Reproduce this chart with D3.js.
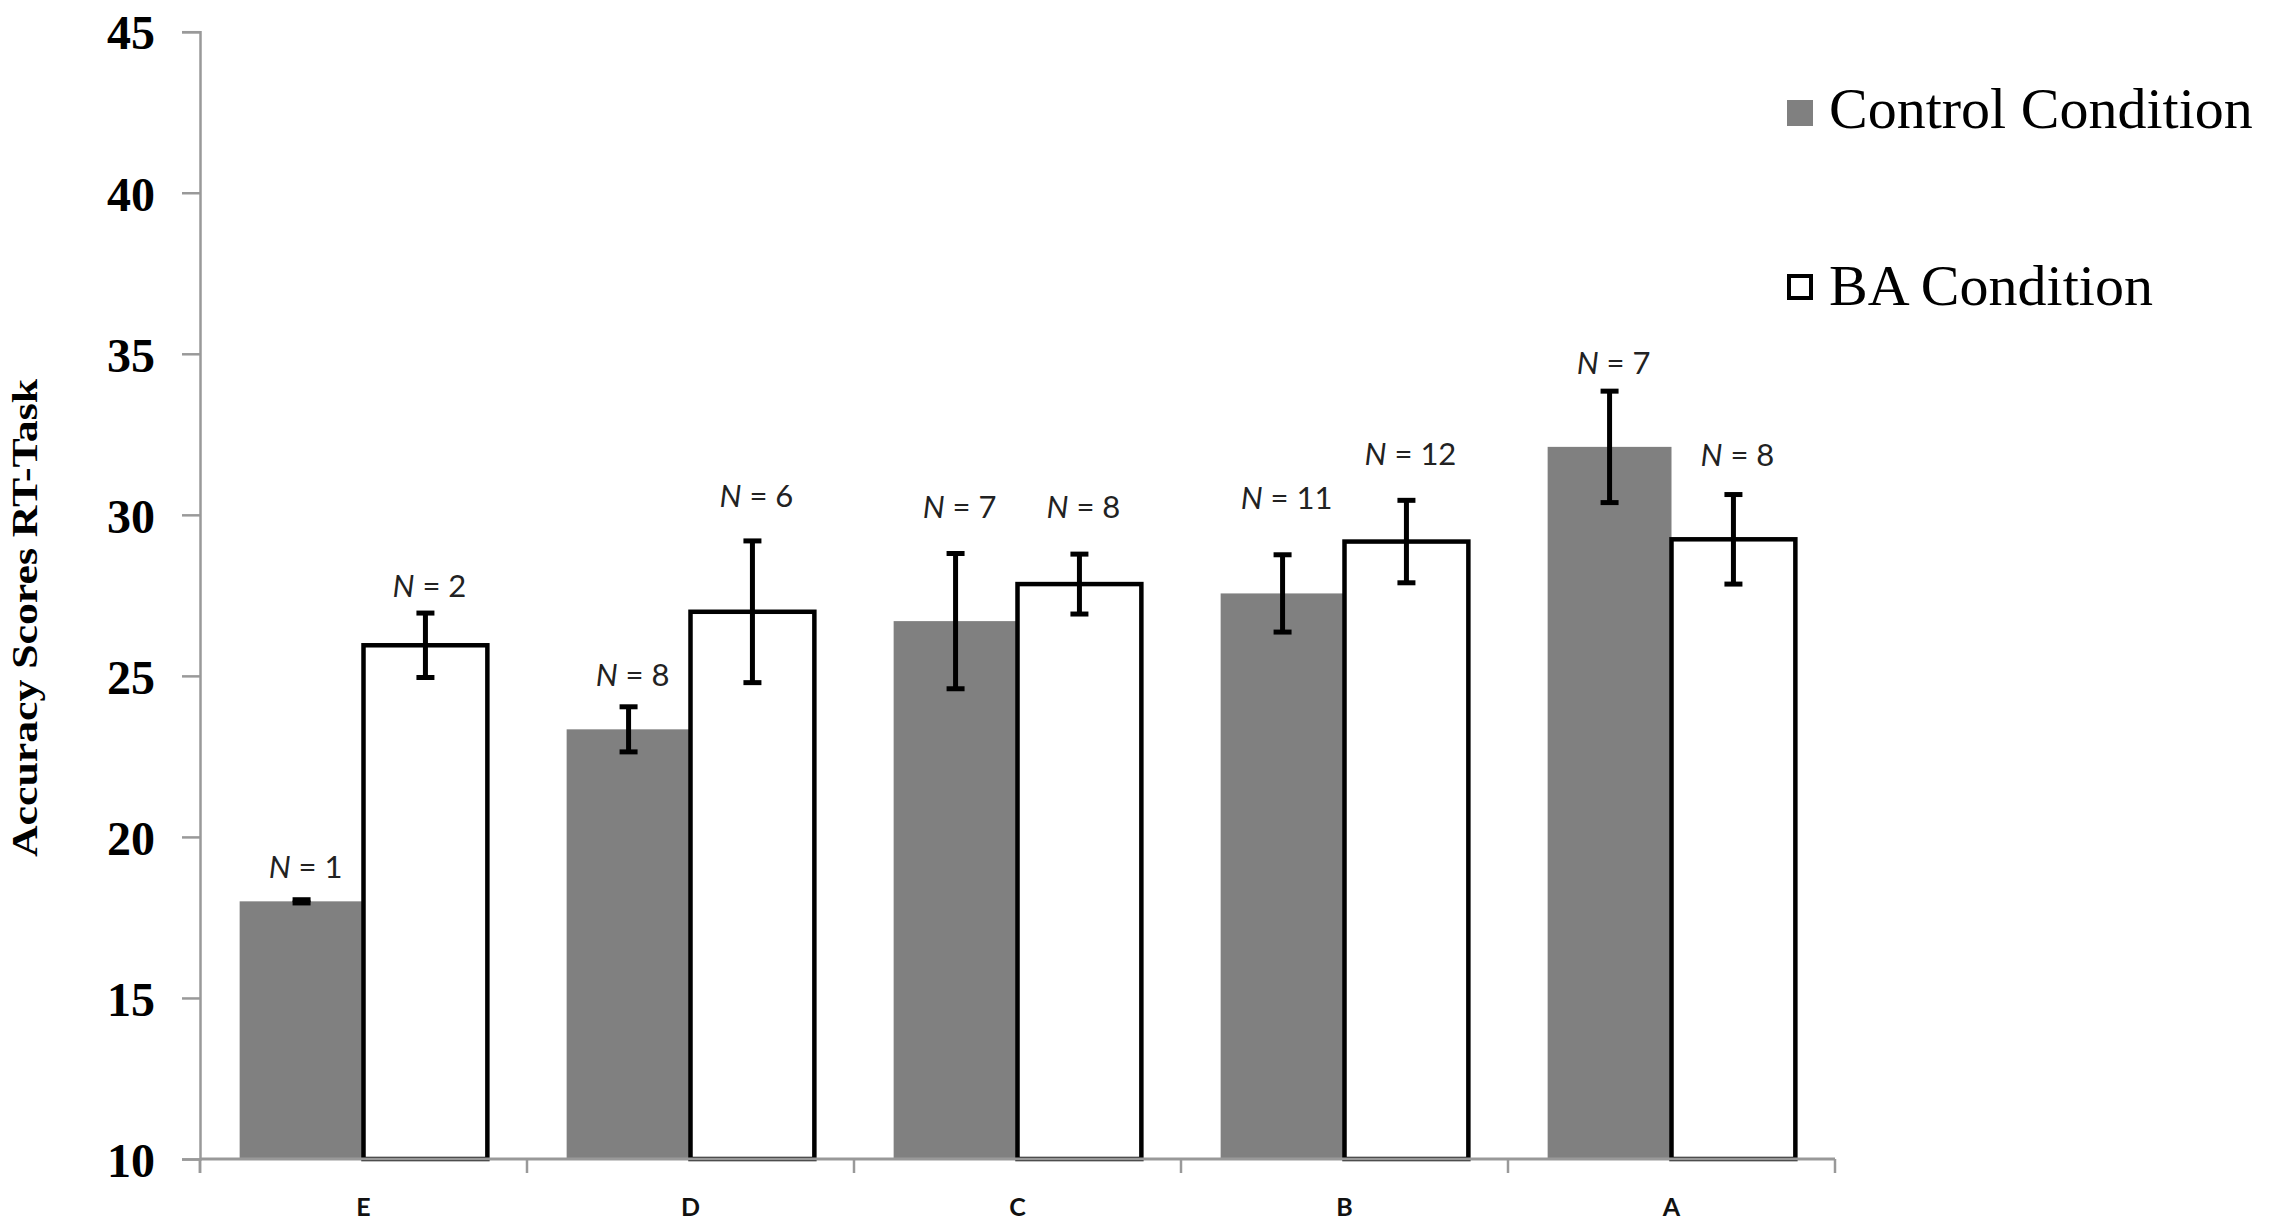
<!DOCTYPE html>
<html>
<head>
<meta charset="utf-8">
<script src="https://cdn.jsdelivr.net/npm/d3@7/dist/d3.min.js"></script>
<style>
  html, body { margin: 0; padding: 0; background: #fff; }
  svg { display: block; }
</style>
</head>
<body>
<svg id="chart" width="2290" height="1227"></svg>
<script>
// ---- data ----
const categories = ["E", "D", "C", "B", "A"];
const seriesNames = ["Control Condition", "BA Condition"];
const controlValues = [18.0, 23.34, 26.7, 27.56, 32.11];
const baValues = [25.95, 26.99, 27.85, 29.17, 29.24];
const controlErrors = [0.05, 0.7, 2.1, 1.2, 1.73];
const baErrors = [1.0, 2.2, 0.93, 1.28, 1.39];
const controlN = [1, 8, 7, 11, 7];
const baN = [2, 6, 8, 12, 8];
// value (in axis units) at which each N label is centred
const controlLabelAt = [19.07, 25.03, 30.25, 30.52, 34.71];
const baLabelAt = [27.79, 30.6, 30.25, 31.88, 31.86];
const yTicks = [10, 15, 20, 25, 30, 35, 40, 45];
const yTitle = "Accuracy  Scores RT-Task";

// ---- layout ----
const svg = d3.select("#chart");
const plot = { left: 200, right: 1835, top: 31.7, bottom: 1159 };
const CONTROL_FILL = "#808080";
const AXIS_COLOR = "#999999";

const y = d3.scaleLinear().domain([10, 45]).range([plot.bottom, plot.top]);
const x0 = d3.scaleBand().domain(categories).range([plot.left, plot.right]).padding(0);
const x1 = d3.scaleBand().domain(["control", "ba"]).range([0, x0.bandwidth()])
  .paddingInner(0).paddingOuter(0.32);

const rows = categories.map((c, i) => ({
  cat: c,
  bars: [
    { key: "control", v: controlValues[i], e: controlErrors[i], n: controlN[i], l: controlLabelAt[i] },
    { key: "ba", v: baValues[i], e: baErrors[i], n: baN[i], l: baLabelAt[i] }
  ]
}));

const groups = svg.append("g").selectAll("g.grp").data(rows).join("g")
  .attr("class", "grp")
  .attr("transform", d => `translate(${x0(d.cat)},0)`);

// bars
groups.selectAll("rect").data(d => d.bars).join("rect")
  .attr("x", d => x1(d.key))
  .attr("width", x1.bandwidth())
  .attr("y", d => y(d.v))
  .attr("height", d => y(10) - y(d.v))
  .attr("fill", d => d.key === "control" ? CONTROL_FILL : "#ffffff")
  .attr("stroke", d => d.key === "control" ? "none" : "#000")
  .attr("stroke-width", d => d.key === "control" ? 0 : 4.5)
  .attr("stroke-linejoin", "miter");

// error bars
const capHalf = 9;
const eb = groups.selectAll("g.err").data(d => d.bars).join("g").attr("class", "err");
eb.append("line")
  .attr("x1", d => x1(d.key) + x1.bandwidth() / 2)
  .attr("x2", d => x1(d.key) + x1.bandwidth() / 2)
  .attr("y1", d => y(d.v + d.e))
  .attr("y2", d => y(d.v - d.e))
  .attr("stroke", "#000").attr("stroke-width", 5);
eb.append("line")
  .attr("x1", d => x1(d.key) + x1.bandwidth() / 2 - capHalf)
  .attr("x2", d => x1(d.key) + x1.bandwidth() / 2 + capHalf)
  .attr("y1", d => y(d.v + d.e)).attr("y2", d => y(d.v + d.e))
  .attr("stroke", "#000").attr("stroke-width", 5);
eb.append("line")
  .attr("x1", d => x1(d.key) + x1.bandwidth() / 2 - capHalf)
  .attr("x2", d => x1(d.key) + x1.bandwidth() / 2 + capHalf)
  .attr("y1", d => y(d.v - d.e)).attr("y2", d => y(d.v - d.e))
  .attr("stroke", "#000").attr("stroke-width", 5);

// N labels
const nl = groups.selectAll("text.nlab").data(d => d.bars).join("text")
  .attr("class", "nlab")
  .attr("x", d => x1(d.key) + x1.bandwidth() / 2 + 4)
  .attr("y", d => y(d.l))
  .attr("dy", "0.36em")
  .attr("text-anchor", "middle")
  .attr("font-family", "Lato, 'Open Sans', sans-serif")
  .attr("font-size", 31)
  .attr("fill", "#222");
nl.append("tspan").attr("font-style", "italic").text("N");
nl.append("tspan").text(d => " = " + d.n);

// y axis
const yAxis = d3.axisLeft(y).tickValues(yTicks).tickSize(18).tickPadding(27).tickSizeOuter(18);
const yg = svg.append("g").attr("transform", `translate(${plot.left},0)`).call(yAxis);
yg.select(".domain").attr("stroke", AXIS_COLOR).attr("stroke-width", 2.5);
yg.selectAll(".tick line").attr("stroke", AXIS_COLOR).attr("stroke-width", 2.5);
yg.selectAll(".tick text")
  .attr("font-family", "'Liberation Serif', 'Times New Roman', serif")
  .attr("font-weight", "bold")
  .attr("font-size", 48)
  .attr("fill", "#000")
  .attr("dy", "0.36em");
// y axis extension below the baseline
svg.append("line")
  .attr("x1", plot.left).attr("x2", plot.left)
  .attr("y1", y(10)).attr("y2", y(10) + 14)
  .attr("stroke", AXIS_COLOR).attr("stroke-width", 2.5);

// x axis
svg.append("line")
  .attr("x1", plot.left).attr("x2", plot.right)
  .attr("y1", y(10)).attr("y2", y(10))
  .attr("stroke", AXIS_COLOR).attr("stroke-width", 3);
const boundaries = categories.map(c => x0(c)).concat([x0.range()[1]]);
svg.append("g").selectAll("line").data(boundaries).join("line")
  .attr("x1", d => d).attr("x2", d => d)
  .attr("y1", y(10)).attr("y2", y(10) + 14)
  .attr("stroke", AXIS_COLOR).attr("stroke-width", 2.5);
svg.append("g").selectAll("text").data(categories).join("text")
  .attr("x", d => x0(d) + x0.bandwidth() / 2)
  .attr("y", 1207)
  .attr("dy", "0.36em")
  .attr("text-anchor", "middle")
  .attr("font-family", "Lato, 'Open Sans', sans-serif")
  .attr("font-weight", "bold")
  .attr("font-size", 25)
  .attr("fill", "#111")
  .text(d => d);

// y title
svg.append("text")
  .attr("transform", `translate(37,618) rotate(-90)`)
  .attr("text-anchor", "middle")
  .attr("font-family", "'Liberation Serif', 'Times New Roman', serif")
  .attr("font-weight", "bold")
  .attr("font-size", 36)
  .attr("textLength", 478)
  .attr("lengthAdjust", "spacingAndGlyphs")
  .attr("fill", "#000")
  .text(yTitle);

// legend
const legendItems = [
  { name: seriesNames[0], fill: CONTROL_FILL, stroke: "none", top: 100, base: 128 },
  { name: seriesNames[1], fill: "#fff", stroke: "#000", top: 274, base: 305 }
];
const lg = svg.append("g").selectAll("g").data(legendItems).join("g");
lg.append("rect")
  .attr("x", d => d.stroke === "none" ? 1787 : 1789)
  .attr("y", d => d.stroke === "none" ? d.top : d.top + 2)
  .attr("width", d => d.stroke === "none" ? 26 : 22)
  .attr("height", d => d.stroke === "none" ? 26 : 22)
  .attr("fill", d => d.fill)
  .attr("stroke", d => d.stroke)
  .attr("stroke-width", 4);
lg.append("text")
  .attr("x", 1829)
  .attr("y", d => d.base)
  .attr("font-family", "'Liberation Serif', 'Times New Roman', serif")
  .attr("font-size", 58)
  .attr("fill", "#000")
  .text(d => d.name);
</script>
</body>
</html>
